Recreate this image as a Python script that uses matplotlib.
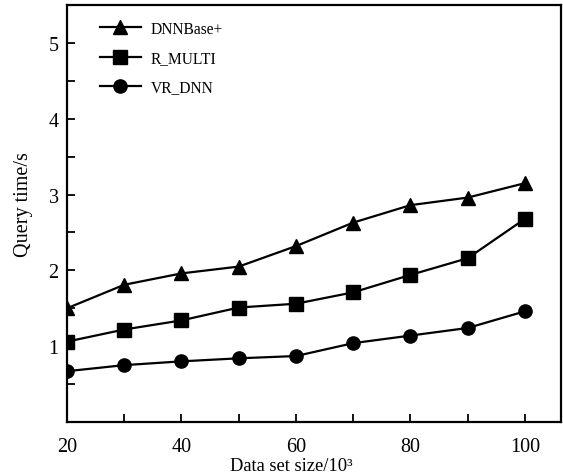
import matplotlib
matplotlib.use("Agg")
import matplotlib.pyplot as plt
from matplotlib.ticker import MultipleLocator

# data
sizes = [20, 30, 40, 50, 60, 70, 80, 90, 100]
dnnbase = [1.50, 1.81, 1.96, 2.05, 2.32, 2.63, 2.86, 2.96, 3.15]
r_multi = [1.06, 1.22, 1.34, 1.51, 1.56, 1.71, 1.94, 2.16, 2.68]
vr_dnn = [0.67, 0.75, 0.80, 0.84, 0.87, 1.04, 1.14, 1.24, 1.46]

plt.rcParams["font.family"] = ["Liberation Serif", "DejaVu Serif"]

fig = plt.figure(figsize=(5.63, 4.77), dpi=100)
ax = fig.add_axes([67 / 563, 1 - 423 / 477, 494 / 563, 417 / 477])

style = dict(color="black", lw=1.6, markersize=9.5)
ax.plot(sizes, dnnbase, marker="^", label="DNNBase+", **style)
ax.plot(sizes, r_multi, marker="s", label="R_MULTI", **style)
ax.plot(sizes, vr_dnn, marker="o", label="VR_DNN", **style)

ax.set_xlim(20, 106.3)
ax.set_ylim(0, 5.5)
ax.xaxis.set_major_locator(MultipleLocator(20))
ax.xaxis.set_minor_locator(MultipleLocator(10))
ax.set_yticks([1, 2, 3, 4, 5])
ax.yaxis.set_minor_locator(MultipleLocator(0.5))
ax.tick_params(which="both", direction="in", length=6, width=1.3,
               top=False, right=False, labelsize=14.5)
ax.tick_params(axis="x", which="both", pad=11)
ax.tick_params(axis="y", which="both", pad=6)

for s in ax.spines.values():
    s.set_linewidth(1.6)

ax.set_xlabel("Data set size/10³", fontsize=13.3)
ax.set_ylabel("Query time/s", fontsize=14.5)
ax.xaxis.set_label_coords(0.454, -0.084)
ax.xaxis.label.set_va("top")
ax.yaxis.set_label_coords(-0.069, 0.525)

ax.legend(loc="upper left", bbox_to_anchor=(0.067, 0.962), frameon=False,
          fontsize=11.2, borderaxespad=0, borderpad=0, handlelength=2.6,
          handletextpad=0.65, labelspacing=0.85)

fig.savefig("out.png", dpi=100)
